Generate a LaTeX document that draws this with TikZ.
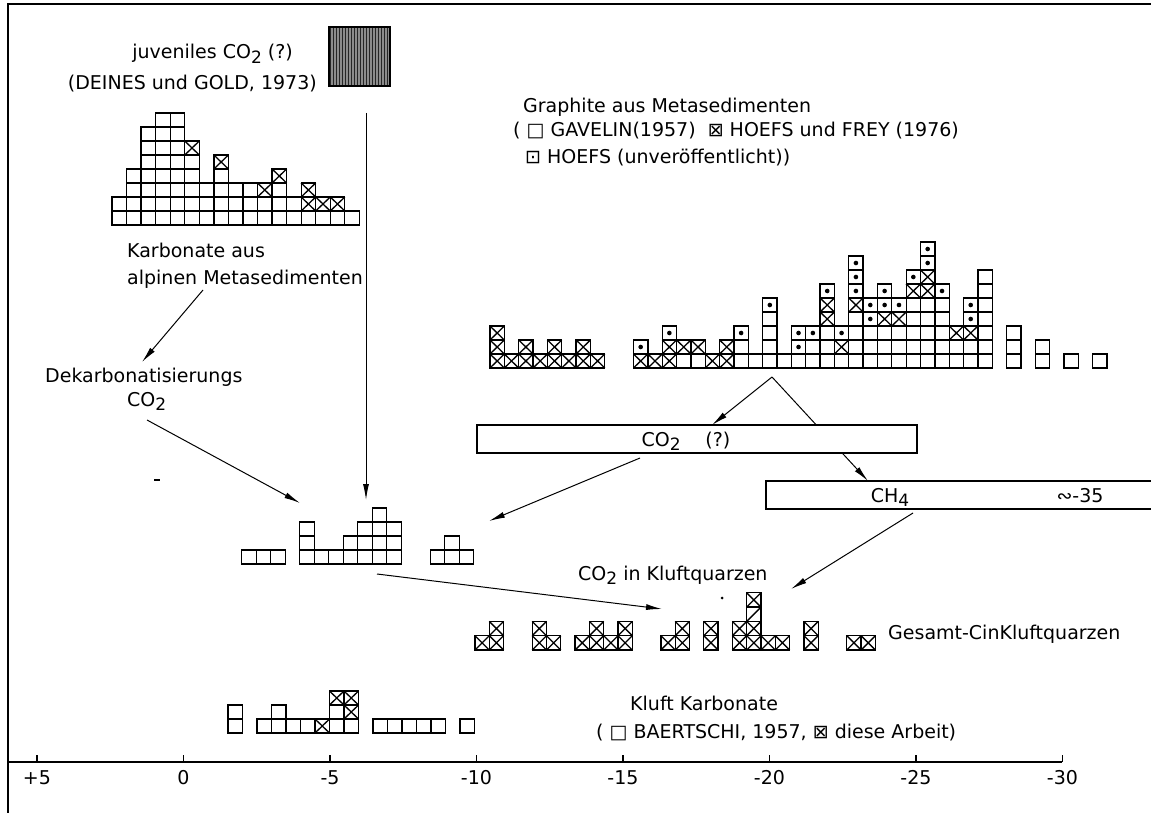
\documentclass[tikz,border=0pt]{standalone}
\usepackage{fontspec}
\setmainfont{DejaVu Sans}
\usetikzlibrary{arrows.meta,patterns}

\tikzset{
  lbl/.style={font=\fontsize{19}{23}\selectfont, inner sep=0pt},
  arr/.style={-{Latex[length=16pt,width=6pt]}, line width=1pt},
  cell/.style={line width=1.3pt},
  frame/.style={line width=1.2pt},
}
\newcommand{\subidx}[1]{\raisebox{-0.4ex}{\fontsize{17}{17}\selectfont #1}}
\newcommand{\histbars}[1]{\foreach \col/\hh in {#1}{\foreach \rr in {1,...,\hh}{\draw[cell] (\col,\rr-1) rectangle ++(1,1);}}}
\newcommand{\histcross}[1]{\foreach \col/\rr in {#1}{\draw[cell] (\col,\rr-1) -- ++(1,1) (\col+1,\rr-1) -- ++(-1,1);}}
\newcommand{\histdot}[1]{\foreach \col/\rr in {#1}{\fill (\col+0.5,\rr-0.5) circle (2.3pt);}}

\begin{document}
\begin{tikzpicture}[x=1pt, y=-1pt]
\useasboundingbox (0,0) rectangle (1151,813);

% frame
\draw[frame] (1151,4) -- (8,4) -- (8,813);

% juvenile CO2
\node[lbl, anchor=base east] (juv) at (293,59) {juveniles CO\subidx{2} (?)};
\node[lbl, anchor=base east] (deines) at (317,90) {(DEINES und GOLD, 1973)};
\node[draw, frame, preaction={fill=black!45}, pattern=vertical lines, pattern color=black!85, minimum width=61pt, minimum height=59pt, inner sep=0pt] (juvbox) at (359.5,56.5) {};

% carbonates
\begin{scope}[shift={(112,225)}, x=14.55pt, y=14pt]
  \histbars{0/2,1/4,2/7,3/8,4/8,5/6,6/3,7/5,8/3,9/3,10/3,11/4,12/2,13/3,14/2,15/2,16/1}
  \histcross{5/6,7/5,10/3,11/4,13/2,13/3,14/2,15/2}
\end{scope}
\node[lbl, anchor=base west] (karb1) at (127,258) {Karbonate aus};
\node[lbl, anchor=base west] (karb2) at (127,284) {alpinen Metasedimenten};
\node[lbl, anchor=base west] (dekarb1) at (45,382) {Dekarbonatisierungs};
\node[lbl, anchor=base west] (dekarb2) at (127,406) {CO\subidx{2}};

% graphite
\node[lbl, anchor=base west] (graph1) at (523,113) {Graphite aus Metasedimenten};
\node[lbl, anchor=base west] (graph2) at (513,137) {( □ GAVELIN(1957) ~⊠ HOEFS und FREY (1976)};
\node[lbl, anchor=base west] (graph3) at (525,164) {⊡ HOEFS (unveröffentlicht))};
\begin{scope}[shift={(490,368)}, x=14.35pt, y=14pt]
  \histbars{0/3,1/1,2/2,3/1,4/2,5/1,6/2,7/1}
  \histcross{0/1,0/2,0/3,1/1,2/1,2/2,3/1,4/1,4/2,5/1,6/1,6/2,7/1}
  \histbars{10/2,11/1,12/3,13/2,14/2,15/1,16/2,17/3,18/1,19/5,20/1,21/3,22/3,23/6,24/3,25/8,26/5,27/6,28/5,29/7,30/9,31/6,32/3,33/5,34/7,36/3,38/2,40/1,42/1}
  \histcross{10/1,11/1,12/1,12/2,13/2,14/2,15/1,16/1,16/2,23/4,23/5,24/2,25/5,27/4,28/4,29/6,30/6,30/7,32/3,33/3}
  \histdot{10/2,12/3,17/3,19/5,21/2,21/3,22/3,23/6,24/3,25/6,25/7,25/8,26/4,26/5,27/5,27/6,28/5,29/7,30/8,30/9,31/6,33/4,33/5}
\end{scope}

% CO2 and CH4 boxes
\coordinate (apex) at (772,377);
\coordinate (co2tip) at (712,425);
\coordinate (ch4tip) at (868,481);
\draw[arr] (apex) -- (co2tip);
\draw[arr] (apex) -- (ch4tip);
\node[draw, frame, fill=white, minimum width=440pt, minimum height=28pt, inner sep=0pt] (co2box) at (697,439) {};
\node[lbl, anchor=base] (co2lbl) at (686,446) {CO\subidx{2}\hspace{1.3em}(?)};
\draw[frame] (1151,481) -- (766,481) -- (766,509) -- (1151,509);
\node[lbl, anchor=base] (ch4lbl) at (890,502) {CH\subidx{4}};
\node[lbl, anchor=base] (ch4val) at (1080,502) {∾-35};

% CO2 in Kluftquarzen
\begin{scope}[shift={(241.7,564)}, x=14.5pt, y=14pt]
  \histbars{0/1,1/1,2/1,4/3,5/1,6/1,7/2,8/3,9/4,10/3,13/1,14/2,15/1}
\end{scope}
\node[lbl, anchor=base west] (co2kluft) at (578,580) {CO\subidx{2} in Kluftquarzen};

% Gesamt-C
\begin{scope}[shift={(475,650)}, x=14.3pt, y=14.3pt]
  \histbars{0/1,1/2,4/2,5/1,7/1,8/2,9/1,10/2,13/1,14/2,16/2,18/2,19/4,20/1,21/1,23/2,26/1,27/1}
  \histcross{0/1,1/1,1/2,4/1,4/2,5/1,7/1,8/1,8/2,9/1,10/1,10/2,13/1,14/1,14/2,16/1,16/2,18/1,18/2,19/1,19/2,19/4,20/1,21/1,23/1,23/2,26/1,27/1}
  \draw[cell] (19,2) -- (20,3);
\end{scope}
\node[lbl, anchor=base west] (gesamt) at (888,639) {Gesamt-CinKluftquarzen};

% Kluft Karbonate
\begin{scope}[shift={(228,733)}, x=14.5pt, y=14pt]
  \histbars{0/2,2/1,3/2,4/1,5/1,6/1,7/3,8/3,10/1,11/1,12/1,13/1,14/1,16/1}
  \histcross{6/1,7/3,8/2,8/3}
\end{scope}
\node[lbl, anchor=base west] (kluftkarb) at (630,710) {Kluft Karbonate};
\node[lbl, anchor=base west] (baertschi) at (596,738) {( □ BAERTSCHI, 1957, ⊠ diese Arbeit)};

% arrows
\coordinate (juvstart) at (366,113);
\coordinate (midtop) at (366,500);
\coordinate (karbstart) at (203,290);
\coordinate (dekarbtip) at (142,362);
\coordinate (dekarbstart) at (147,420);
\coordinate (midleft) at (300,503);
\coordinate (co2start) at (640,458);
\coordinate (midright) at (489,521);
\coordinate (midstart) at (377,574);
\coordinate (gesleft) at (662,609);
\coordinate (ch4start) at (913,513);
\coordinate (gesright) at (791,589);
\draw[arr] (juvstart) -- (midtop);
\draw[arr] (karbstart) -- (dekarbtip);
\draw[arr] (dekarbstart) -- (midleft);
\draw[arr] (co2start) -- (midright);
\draw[arr] (midstart) -- (gesleft);
\draw[arr] (ch4start) -- (gesright);

\fill (722,598) circle (1.5pt);
\draw[line width=1.5pt] (154,480) -- (160,480);

% axis
\draw[frame] (8,762) -- (1062,762);
\foreach \i/\lab in {0/+5,1/0,2/-5,3/-10,4/-15,5/-20,6/-25,7/-30} {
  \draw[frame] (37+146.5*\i,762) -- ++(0,-7);
  \node[lbl, anchor=base] (tick\i) at (37+146.5*\i,784) {\lab};
}
\end{tikzpicture}
\end{document}
